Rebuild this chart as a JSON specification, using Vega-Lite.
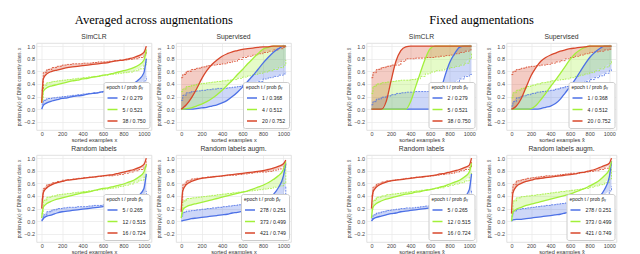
{
"$schema":"https://vega.github.io/schema/vega-lite/v6.json",
"padding":{"left":15.5,"top":14,"right":2,"bottom":0},
"data":{"values":[
{"p":"A","k":0,"x":0,"y":0,"s":0.08},{"p":"A","k":0,"x":15,"y":0.06,"s":0.14},{"p":"A","k":0,"x":50,"y":0.1,"s":0.17},{"p":"A","k":0,"x":100,"y":0.13,"s":0.18},{"p":"A","k":0,"x":150,"y":0.15,"s":0.19},{"p":"A","k":0,"x":200,"y":0.17,"s":0.2},{"p":"A","k":0,"x":250,"y":0.18,"s":0.21},{"p":"A","k":0,"x":300,"y":0.2,"s":0.22},{"p":"A","k":0,"x":350,"y":0.21,"s":0.23},{"p":"A","k":0,"x":400,"y":0.22,"s":0.24},{"p":"A","k":0,"x":450,"y":0.24,"s":0.25},{"p":"A","k":0,"x":500,"y":0.25,"s":0.26},{"p":"A","k":0,"x":550,"y":0.26,"s":0.27},{"p":"A","k":0,"x":600,"y":0.28,"s":0.28},{"p":"A","k":0,"x":650,"y":0.29,"s":0.29},{"p":"A","k":0,"x":700,"y":0.31,"s":0.3},{"p":"A","k":0,"x":750,"y":0.33,"s":0.31},{"p":"A","k":0,"x":800,"y":0.35,"s":0.33},{"p":"A","k":0,"x":850,"y":0.38,"s":0.35},{"p":"A","k":0,"x":900,"y":0.41,"s":0.37},{"p":"A","k":0,"x":950,"y":0.47,"s":0.4},{"p":"A","k":0,"x":1000,"y":0.58,"s":0.45},{"p":"A","k":0,"x":1023,"y":0.8,"s":0.52},
{"p":"A","k":1,"x":0,"y":0.1,"s":0.15},{"p":"A","k":1,"x":15,"y":0.28,"s":0.38},{"p":"A","k":1,"x":50,"y":0.34,"s":0.42},{"p":"A","k":1,"x":100,"y":0.37,"s":0.44},{"p":"A","k":1,"x":150,"y":0.39,"s":0.45},{"p":"A","k":1,"x":200,"y":0.41,"s":0.46},{"p":"A","k":1,"x":250,"y":0.43,"s":0.47},{"p":"A","k":1,"x":300,"y":0.45,"s":0.48},{"p":"A","k":1,"x":350,"y":0.46,"s":0.49},{"p":"A","k":1,"x":400,"y":0.48,"s":0.5},{"p":"A","k":1,"x":450,"y":0.49,"s":0.51},{"p":"A","k":1,"x":500,"y":0.51,"s":0.52},{"p":"A","k":1,"x":550,"y":0.52,"s":0.53},{"p":"A","k":1,"x":600,"y":0.54,"s":0.54},{"p":"A","k":1,"x":650,"y":0.55,"s":0.55},{"p":"A","k":1,"x":700,"y":0.57,"s":0.56},{"p":"A","k":1,"x":750,"y":0.59,"s":0.57},{"p":"A","k":1,"x":800,"y":0.61,"s":0.58},{"p":"A","k":1,"x":850,"y":0.63,"s":0.59},{"p":"A","k":1,"x":900,"y":0.66,"s":0.61},{"p":"A","k":1,"x":950,"y":0.7,"s":0.64},{"p":"A","k":1,"x":1000,"y":0.78,"s":0.7},{"p":"A","k":1,"x":1023,"y":0.95,"s":0.8},
{"p":"A","k":2,"x":0,"y":0.1,"s":0.3},{"p":"A","k":2,"x":15,"y":0.48,"s":0.58},{"p":"A","k":2,"x":50,"y":0.56,"s":0.63},{"p":"A","k":2,"x":100,"y":0.6,"s":0.66},{"p":"A","k":2,"x":150,"y":0.62,"s":0.68},{"p":"A","k":2,"x":200,"y":0.64,"s":0.7},{"p":"A","k":2,"x":250,"y":0.66,"s":0.71},{"p":"A","k":2,"x":300,"y":0.67,"s":0.72},{"p":"A","k":2,"x":350,"y":0.68,"s":0.72},{"p":"A","k":2,"x":400,"y":0.69,"s":0.73},{"p":"A","k":2,"x":450,"y":0.7,"s":0.73},{"p":"A","k":2,"x":500,"y":0.71,"s":0.74},{"p":"A","k":2,"x":550,"y":0.72,"s":0.75},{"p":"A","k":2,"x":600,"y":0.73,"s":0.75},{"p":"A","k":2,"x":650,"y":0.74,"s":0.76},{"p":"A","k":2,"x":700,"y":0.76,"s":0.77},{"p":"A","k":2,"x":750,"y":0.77,"s":0.78},{"p":"A","k":2,"x":800,"y":0.78,"s":0.78},{"p":"A","k":2,"x":850,"y":0.8,"s":0.79},{"p":"A","k":2,"x":900,"y":0.82,"s":0.8},{"p":"A","k":2,"x":950,"y":0.85,"s":0.82},{"p":"A","k":2,"x":1000,"y":0.9,"s":0.86},{"p":"A","k":2,"x":1023,"y":1.0,"s":0.92},
{"p":"B","k":0,"x":0,"y":0,"s":0.14},{"p":"B","k":0,"x":15,"y":0,"s":0.22},{"p":"B","k":0,"x":50,"y":0,"s":0.26},{"p":"B","k":0,"x":100,"y":0,"s":0.28},{"p":"B","k":0,"x":150,"y":0.01,"s":0.29},{"p":"B","k":0,"x":200,"y":0.02,"s":0.3},{"p":"B","k":0,"x":250,"y":0.03,"s":0.31},{"p":"B","k":0,"x":300,"y":0.05,"s":0.32},{"p":"B","k":0,"x":350,"y":0.07,"s":0.33},{"p":"B","k":0,"x":400,"y":0.1,"s":0.33},{"p":"B","k":0,"x":450,"y":0.14,"s":0.34},{"p":"B","k":0,"x":500,"y":0.2,"s":0.35},{"p":"B","k":0,"x":550,"y":0.27,"s":0.36},{"p":"B","k":0,"x":600,"y":0.35,"s":0.38},{"p":"B","k":0,"x":650,"y":0.44,"s":0.4},{"p":"B","k":0,"x":700,"y":0.53,"s":0.42},{"p":"B","k":0,"x":750,"y":0.63,"s":0.44},{"p":"B","k":0,"x":800,"y":0.73,"s":0.48},{"p":"B","k":0,"x":850,"y":0.82,"s":0.5},{"p":"B","k":0,"x":900,"y":0.9,"s":0.52},{"p":"B","k":0,"x":950,"y":0.96,"s":0.54},{"p":"B","k":0,"x":1000,"y":1.0,"s":0.56},{"p":"B","k":0,"x":1023,"y":1.0,"s":0.58},
{"p":"B","k":1,"x":0,"y":0,"s":0.28},{"p":"B","k":1,"x":15,"y":0,"s":0.32},{"p":"B","k":1,"x":50,"y":0.01,"s":0.36},{"p":"B","k":1,"x":100,"y":0.02,"s":0.38},{"p":"B","k":1,"x":150,"y":0.05,"s":0.4},{"p":"B","k":1,"x":200,"y":0.08,"s":0.41},{"p":"B","k":1,"x":250,"y":0.12,"s":0.42},{"p":"B","k":1,"x":300,"y":0.17,"s":0.43},{"p":"B","k":1,"x":350,"y":0.23,"s":0.44},{"p":"B","k":1,"x":400,"y":0.3,"s":0.45},{"p":"B","k":1,"x":450,"y":0.38,"s":0.46},{"p":"B","k":1,"x":500,"y":0.46,"s":0.47},{"p":"B","k":1,"x":550,"y":0.55,"s":0.49},{"p":"B","k":1,"x":600,"y":0.63,"s":0.51},{"p":"B","k":1,"x":650,"y":0.72,"s":0.53},{"p":"B","k":1,"x":700,"y":0.8,"s":0.55},{"p":"B","k":1,"x":750,"y":0.88,"s":0.57},{"p":"B","k":1,"x":800,"y":0.95,"s":0.59},{"p":"B","k":1,"x":850,"y":0.98,"s":0.61},{"p":"B","k":1,"x":900,"y":1.0,"s":0.63},{"p":"B","k":1,"x":950,"y":1.0,"s":0.66},{"p":"B","k":1,"x":1000,"y":1.0,"s":0.7},{"p":"B","k":1,"x":1023,"y":1.0,"s":0.78},
{"p":"B","k":2,"x":0,"y":0,"s":0.5},{"p":"B","k":2,"x":15,"y":0.02,"s":0.55},{"p":"B","k":2,"x":50,"y":0.07,"s":0.6},{"p":"B","k":2,"x":100,"y":0.18,"s":0.63},{"p":"B","k":2,"x":150,"y":0.32,"s":0.65},{"p":"B","k":2,"x":200,"y":0.48,"s":0.67},{"p":"B","k":2,"x":250,"y":0.61,"s":0.69},{"p":"B","k":2,"x":300,"y":0.71,"s":0.7},{"p":"B","k":2,"x":350,"y":0.78,"s":0.71},{"p":"B","k":2,"x":400,"y":0.84,"s":0.72},{"p":"B","k":2,"x":450,"y":0.88,"s":0.74},{"p":"B","k":2,"x":500,"y":0.91,"s":0.76},{"p":"B","k":2,"x":550,"y":0.93,"s":0.79},{"p":"B","k":2,"x":600,"y":0.95,"s":0.82},{"p":"B","k":2,"x":650,"y":0.96,"s":0.84},{"p":"B","k":2,"x":700,"y":0.97,"s":0.86},{"p":"B","k":2,"x":750,"y":0.98,"s":0.88},{"p":"B","k":2,"x":800,"y":0.99,"s":0.9},{"p":"B","k":2,"x":850,"y":0.99,"s":0.92},{"p":"B","k":2,"x":900,"y":1.0,"s":0.94},{"p":"B","k":2,"x":950,"y":1.0,"s":0.96},{"p":"B","k":2,"x":1000,"y":1.0,"s":0.98},{"p":"B","k":2,"x":1023,"y":1.0,"s":1.0},
{"p":"C","k":0,"x":0,"y":0,"s":0.07},{"p":"C","k":0,"x":15,"y":0,"s":0.12},{"p":"C","k":0,"x":50,"y":0,"s":0.16},{"p":"C","k":0,"x":100,"y":0,"s":0.19},{"p":"C","k":0,"x":150,"y":0,"s":0.21},{"p":"C","k":0,"x":200,"y":0,"s":0.23},{"p":"C","k":0,"x":250,"y":0,"s":0.25},{"p":"C","k":0,"x":300,"y":0,"s":0.26},{"p":"C","k":0,"x":350,"y":0,"s":0.27},{"p":"C","k":0,"x":400,"y":0,"s":0.27},{"p":"C","k":0,"x":450,"y":0,"s":0.28},{"p":"C","k":0,"x":500,"y":0,"s":0.28},{"p":"C","k":0,"x":550,"y":0,"s":0.28},{"p":"C","k":0,"x":600,"y":0,"s":0.29},{"p":"C","k":0,"x":650,"y":0.04,"s":0.3},{"p":"C","k":0,"x":700,"y":0.25,"s":0.32},{"p":"C","k":0,"x":750,"y":0.52,"s":0.35},{"p":"C","k":0,"x":800,"y":0.74,"s":0.39},{"p":"C","k":0,"x":850,"y":0.88,"s":0.43},{"p":"C","k":0,"x":900,"y":0.98,"s":0.48},{"p":"C","k":0,"x":950,"y":1.0,"s":0.52},{"p":"C","k":0,"x":1000,"y":1.0,"s":0.55},{"p":"C","k":0,"x":1023,"y":1.0,"s":0.57},
{"p":"C","k":1,"x":0,"y":0,"s":0.25},{"p":"C","k":1,"x":15,"y":0,"s":0.36},{"p":"C","k":1,"x":50,"y":0,"s":0.4},{"p":"C","k":1,"x":100,"y":0,"s":0.42},{"p":"C","k":1,"x":150,"y":0,"s":0.43},{"p":"C","k":1,"x":200,"y":0,"s":0.44},{"p":"C","k":1,"x":250,"y":0,"s":0.45},{"p":"C","k":1,"x":300,"y":0,"s":0.46},{"p":"C","k":1,"x":350,"y":0,"s":0.46},{"p":"C","k":1,"x":400,"y":0.12,"s":0.47},{"p":"C","k":1,"x":450,"y":0.35,"s":0.48},{"p":"C","k":1,"x":500,"y":0.58,"s":0.52},{"p":"C","k":1,"x":550,"y":0.8,"s":0.56},{"p":"C","k":1,"x":600,"y":0.96,"s":0.59},{"p":"C","k":1,"x":650,"y":1.0,"s":0.61},{"p":"C","k":1,"x":700,"y":1.0,"s":0.62},{"p":"C","k":1,"x":750,"y":1.0,"s":0.64},{"p":"C","k":1,"x":800,"y":1.0,"s":0.66},{"p":"C","k":1,"x":850,"y":1.0,"s":0.68},{"p":"C","k":1,"x":900,"y":1.0,"s":0.7},{"p":"C","k":1,"x":950,"y":1.0,"s":0.73},{"p":"C","k":1,"x":1000,"y":1.0,"s":0.8},{"p":"C","k":1,"x":1023,"y":1.0,"s":0.88},
{"p":"C","k":2,"x":0,"y":0,"s":0.5},{"p":"C","k":2,"x":15,"y":0,"s":0.58},{"p":"C","k":2,"x":50,"y":0,"s":0.63},{"p":"C","k":2,"x":100,"y":0,"s":0.66},{"p":"C","k":2,"x":150,"y":0.12,"s":0.68},{"p":"C","k":2,"x":200,"y":0.45,"s":0.7},{"p":"C","k":2,"x":250,"y":0.76,"s":0.7},{"p":"C","k":2,"x":300,"y":0.93,"s":0.76},{"p":"C","k":2,"x":350,"y":0.99,"s":0.8},{"p":"C","k":2,"x":400,"y":1.0,"s":0.8},{"p":"C","k":2,"x":450,"y":1.0,"s":0.81},{"p":"C","k":2,"x":500,"y":1.0,"s":0.81},{"p":"C","k":2,"x":550,"y":1.0,"s":0.82},{"p":"C","k":2,"x":600,"y":1.0,"s":0.82},{"p":"C","k":2,"x":650,"y":1.0,"s":0.83},{"p":"C","k":2,"x":700,"y":1.0,"s":0.84},{"p":"C","k":2,"x":750,"y":1.0,"s":0.85},{"p":"C","k":2,"x":800,"y":1.0,"s":0.86},{"p":"C","k":2,"x":850,"y":1.0,"s":0.88},{"p":"C","k":2,"x":900,"y":1.0,"s":0.9},{"p":"C","k":2,"x":950,"y":1.0,"s":0.92},{"p":"C","k":2,"x":1000,"y":1.0,"s":0.94},{"p":"C","k":2,"x":1023,"y":1.0,"s":0.95},
{"p":"D","k":0,"x":0,"y":0,"s":0.05},{"p":"D","k":0,"x":15,"y":0,"s":0.12},{"p":"D","k":0,"x":50,"y":0,"s":0.18},{"p":"D","k":0,"x":100,"y":0,"s":0.21},{"p":"D","k":0,"x":150,"y":0,"s":0.23},{"p":"D","k":0,"x":200,"y":0,"s":0.25},{"p":"D","k":0,"x":250,"y":0,"s":0.27},{"p":"D","k":0,"x":300,"y":0.01,"s":0.28},{"p":"D","k":0,"x":350,"y":0.03,"s":0.29},{"p":"D","k":0,"x":400,"y":0.05,"s":0.3},{"p":"D","k":0,"x":450,"y":0.09,"s":0.32},{"p":"D","k":0,"x":500,"y":0.16,"s":0.34},{"p":"D","k":0,"x":550,"y":0.26,"s":0.36},{"p":"D","k":0,"x":600,"y":0.36,"s":0.38},{"p":"D","k":0,"x":650,"y":0.47,"s":0.4},{"p":"D","k":0,"x":700,"y":0.59,"s":0.42},{"p":"D","k":0,"x":750,"y":0.71,"s":0.44},{"p":"D","k":0,"x":800,"y":0.82,"s":0.47},{"p":"D","k":0,"x":850,"y":0.9,"s":0.5},{"p":"D","k":0,"x":900,"y":0.96,"s":0.53},{"p":"D","k":0,"x":950,"y":1.0,"s":0.57},{"p":"D","k":0,"x":1000,"y":1.0,"s":0.61},{"p":"D","k":0,"x":1023,"y":1.0,"s":0.63},
{"p":"D","k":1,"x":0,"y":0,"s":0.18},{"p":"D","k":1,"x":15,"y":0,"s":0.26},{"p":"D","k":1,"x":50,"y":0,"s":0.3},{"p":"D","k":1,"x":100,"y":0,"s":0.33},{"p":"D","k":1,"x":150,"y":0,"s":0.36},{"p":"D","k":1,"x":200,"y":0.01,"s":0.38},{"p":"D","k":1,"x":250,"y":0.06,"s":0.4},{"p":"D","k":1,"x":300,"y":0.15,"s":0.42},{"p":"D","k":1,"x":350,"y":0.25,"s":0.43},{"p":"D","k":1,"x":400,"y":0.36,"s":0.45},{"p":"D","k":1,"x":450,"y":0.46,"s":0.46},{"p":"D","k":1,"x":500,"y":0.57,"s":0.47},{"p":"D","k":1,"x":550,"y":0.68,"s":0.48},{"p":"D","k":1,"x":600,"y":0.79,"s":0.5},{"p":"D","k":1,"x":650,"y":0.88,"s":0.52},{"p":"D","k":1,"x":700,"y":0.94,"s":0.54},{"p":"D","k":1,"x":750,"y":0.98,"s":0.56},{"p":"D","k":1,"x":800,"y":1.0,"s":0.58},{"p":"D","k":1,"x":850,"y":1.0,"s":0.61},{"p":"D","k":1,"x":900,"y":1.0,"s":0.64},{"p":"D","k":1,"x":950,"y":1.0,"s":0.67},{"p":"D","k":1,"x":1000,"y":1.0,"s":0.72},{"p":"D","k":1,"x":1023,"y":1.0,"s":0.76},
{"p":"D","k":2,"x":0,"y":0,"s":0.55},{"p":"D","k":2,"x":15,"y":0.01,"s":0.6},{"p":"D","k":2,"x":50,"y":0.05,"s":0.63},{"p":"D","k":2,"x":100,"y":0.17,"s":0.65},{"p":"D","k":2,"x":150,"y":0.35,"s":0.67},{"p":"D","k":2,"x":200,"y":0.53,"s":0.68},{"p":"D","k":2,"x":250,"y":0.66,"s":0.69},{"p":"D","k":2,"x":300,"y":0.76,"s":0.7},{"p":"D","k":2,"x":350,"y":0.82,"s":0.71},{"p":"D","k":2,"x":400,"y":0.86,"s":0.73},{"p":"D","k":2,"x":450,"y":0.89,"s":0.75},{"p":"D","k":2,"x":500,"y":0.92,"s":0.77},{"p":"D","k":2,"x":550,"y":0.94,"s":0.8},{"p":"D","k":2,"x":600,"y":0.96,"s":0.82},{"p":"D","k":2,"x":650,"y":0.97,"s":0.84},{"p":"D","k":2,"x":700,"y":0.98,"s":0.86},{"p":"D","k":2,"x":750,"y":0.99,"s":0.88},{"p":"D","k":2,"x":800,"y":1.0,"s":0.9},{"p":"D","k":2,"x":850,"y":1.0,"s":0.91},{"p":"D","k":2,"x":900,"y":1.0,"s":0.92},{"p":"D","k":2,"x":950,"y":1.0,"s":0.94},{"p":"D","k":2,"x":1000,"y":1.0,"s":0.95},{"p":"D","k":2,"x":1023,"y":1.0,"s":0.96},
{"p":"E","k":0,"x":0,"y":0,"s":0.03},{"p":"E","k":0,"x":15,"y":0.04,"s":0.1},{"p":"E","k":0,"x":50,"y":0.08,"s":0.15},{"p":"E","k":0,"x":100,"y":0.1,"s":0.18},{"p":"E","k":0,"x":150,"y":0.13,"s":0.2},{"p":"E","k":0,"x":200,"y":0.15,"s":0.21},{"p":"E","k":0,"x":250,"y":0.16,"s":0.22},{"p":"E","k":0,"x":300,"y":0.17,"s":0.22},{"p":"E","k":0,"x":350,"y":0.18,"s":0.23},{"p":"E","k":0,"x":400,"y":0.19,"s":0.23},{"p":"E","k":0,"x":450,"y":0.2,"s":0.24},{"p":"E","k":0,"x":500,"y":0.21,"s":0.25},{"p":"E","k":0,"x":550,"y":0.22,"s":0.25},{"p":"E","k":0,"x":600,"y":0.23,"s":0.26},{"p":"E","k":0,"x":650,"y":0.25,"s":0.27},{"p":"E","k":0,"x":700,"y":0.27,"s":0.28},{"p":"E","k":0,"x":750,"y":0.29,"s":0.29},{"p":"E","k":0,"x":800,"y":0.31,"s":0.3},{"p":"E","k":0,"x":850,"y":0.33,"s":0.31},{"p":"E","k":0,"x":900,"y":0.36,"s":0.33},{"p":"E","k":0,"x":950,"y":0.41,"s":0.36},{"p":"E","k":0,"x":1000,"y":0.52,"s":0.42},{"p":"E","k":0,"x":1023,"y":0.75,"s":0.48},
{"p":"E","k":1,"x":0,"y":0.05,"s":0.12},{"p":"E","k":1,"x":15,"y":0.22,"s":0.33},{"p":"E","k":1,"x":50,"y":0.28,"s":0.38},{"p":"E","k":1,"x":100,"y":0.32,"s":0.4},{"p":"E","k":1,"x":150,"y":0.35,"s":0.42},{"p":"E","k":1,"x":200,"y":0.37,"s":0.43},{"p":"E","k":1,"x":250,"y":0.39,"s":0.44},{"p":"E","k":1,"x":300,"y":0.41,"s":0.45},{"p":"E","k":1,"x":350,"y":0.43,"s":0.46},{"p":"E","k":1,"x":400,"y":0.45,"s":0.47},{"p":"E","k":1,"x":450,"y":0.46,"s":0.48},{"p":"E","k":1,"x":500,"y":0.48,"s":0.49},{"p":"E","k":1,"x":550,"y":0.5,"s":0.5},{"p":"E","k":1,"x":600,"y":0.52,"s":0.51},{"p":"E","k":1,"x":650,"y":0.53,"s":0.52},{"p":"E","k":1,"x":700,"y":0.55,"s":0.53},{"p":"E","k":1,"x":750,"y":0.57,"s":0.55},{"p":"E","k":1,"x":800,"y":0.59,"s":0.57},{"p":"E","k":1,"x":850,"y":0.62,"s":0.59},{"p":"E","k":1,"x":900,"y":0.65,"s":0.62},{"p":"E","k":1,"x":950,"y":0.7,"s":0.65},{"p":"E","k":1,"x":1000,"y":0.78,"s":0.7},{"p":"E","k":1,"x":1023,"y":0.9,"s":0.75},
{"p":"E","k":2,"x":0,"y":0.2,"s":0.35},{"p":"E","k":2,"x":15,"y":0.45,"s":0.52},{"p":"E","k":2,"x":50,"y":0.53,"s":0.58},{"p":"E","k":2,"x":100,"y":0.58,"s":0.61},{"p":"E","k":2,"x":150,"y":0.61,"s":0.63},{"p":"E","k":2,"x":200,"y":0.63,"s":0.65},{"p":"E","k":2,"x":250,"y":0.65,"s":0.66},{"p":"E","k":2,"x":300,"y":0.66,"s":0.67},{"p":"E","k":2,"x":350,"y":0.67,"s":0.68},{"p":"E","k":2,"x":400,"y":0.68,"s":0.69},{"p":"E","k":2,"x":450,"y":0.69,"s":0.7},{"p":"E","k":2,"x":500,"y":0.7,"s":0.7},{"p":"E","k":2,"x":550,"y":0.71,"s":0.71},{"p":"E","k":2,"x":600,"y":0.72,"s":0.72},{"p":"E","k":2,"x":650,"y":0.73,"s":0.72},{"p":"E","k":2,"x":700,"y":0.74,"s":0.73},{"p":"E","k":2,"x":750,"y":0.76,"s":0.74},{"p":"E","k":2,"x":800,"y":0.78,"s":0.76},{"p":"E","k":2,"x":850,"y":0.8,"s":0.78},{"p":"E","k":2,"x":900,"y":0.82,"s":0.8},{"p":"E","k":2,"x":950,"y":0.85,"s":0.82},{"p":"E","k":2,"x":1000,"y":0.9,"s":0.86},{"p":"E","k":2,"x":1023,"y":1.0,"s":0.95},
{"p":"F","k":0,"x":0,"y":0,"s":0.08},{"p":"F","k":0,"x":15,"y":0.01,"s":0.14},{"p":"F","k":0,"x":50,"y":0.02,"s":0.16},{"p":"F","k":0,"x":100,"y":0.04,"s":0.17},{"p":"F","k":0,"x":150,"y":0.05,"s":0.18},{"p":"F","k":0,"x":200,"y":0.06,"s":0.19},{"p":"F","k":0,"x":250,"y":0.07,"s":0.2},{"p":"F","k":0,"x":300,"y":0.08,"s":0.21},{"p":"F","k":0,"x":350,"y":0.09,"s":0.22},{"p":"F","k":0,"x":400,"y":0.1,"s":0.23},{"p":"F","k":0,"x":450,"y":0.11,"s":0.24},{"p":"F","k":0,"x":500,"y":0.13,"s":0.25},{"p":"F","k":0,"x":550,"y":0.14,"s":0.26},{"p":"F","k":0,"x":600,"y":0.16,"s":0.27},{"p":"F","k":0,"x":650,"y":0.18,"s":0.28},{"p":"F","k":0,"x":700,"y":0.21,"s":0.29},{"p":"F","k":0,"x":750,"y":0.24,"s":0.3},{"p":"F","k":0,"x":800,"y":0.28,"s":0.31},{"p":"F","k":0,"x":850,"y":0.34,"s":0.32},{"p":"F","k":0,"x":900,"y":0.42,"s":0.34},{"p":"F","k":0,"x":950,"y":0.53,"s":0.37},{"p":"F","k":0,"x":1000,"y":0.72,"s":0.43},{"p":"F","k":0,"x":1023,"y":0.92,"s":0.55},
{"p":"F","k":1,"x":0,"y":0.05,"s":0.12},{"p":"F","k":1,"x":15,"y":0.18,"s":0.32},{"p":"F","k":1,"x":50,"y":0.23,"s":0.36},{"p":"F","k":1,"x":100,"y":0.26,"s":0.37},{"p":"F","k":1,"x":150,"y":0.28,"s":0.38},{"p":"F","k":1,"x":200,"y":0.3,"s":0.39},{"p":"F","k":1,"x":250,"y":0.32,"s":0.4},{"p":"F","k":1,"x":300,"y":0.34,"s":0.41},{"p":"F","k":1,"x":350,"y":0.36,"s":0.42},{"p":"F","k":1,"x":400,"y":0.38,"s":0.43},{"p":"F","k":1,"x":450,"y":0.4,"s":0.44},{"p":"F","k":1,"x":500,"y":0.42,"s":0.45},{"p":"F","k":1,"x":550,"y":0.44,"s":0.46},{"p":"F","k":1,"x":600,"y":0.46,"s":0.47},{"p":"F","k":1,"x":650,"y":0.48,"s":0.48},{"p":"F","k":1,"x":700,"y":0.51,"s":0.49},{"p":"F","k":1,"x":750,"y":0.54,"s":0.5},{"p":"F","k":1,"x":800,"y":0.57,"s":0.51},{"p":"F","k":1,"x":850,"y":0.61,"s":0.52},{"p":"F","k":1,"x":900,"y":0.66,"s":0.54},{"p":"F","k":1,"x":950,"y":0.72,"s":0.56},{"p":"F","k":1,"x":1000,"y":0.82,"s":0.6},{"p":"F","k":1,"x":1023,"y":0.95,"s":0.88},
{"p":"F","k":2,"x":0,"y":0.15,"s":0.3},{"p":"F","k":2,"x":15,"y":0.48,"s":0.58},{"p":"F","k":2,"x":50,"y":0.58,"s":0.64},{"p":"F","k":2,"x":100,"y":0.63,"s":0.67},{"p":"F","k":2,"x":150,"y":0.66,"s":0.68},{"p":"F","k":2,"x":200,"y":0.68,"s":0.69},{"p":"F","k":2,"x":250,"y":0.69,"s":0.7},{"p":"F","k":2,"x":300,"y":0.7,"s":0.71},{"p":"F","k":2,"x":350,"y":0.71,"s":0.71},{"p":"F","k":2,"x":400,"y":0.72,"s":0.72},{"p":"F","k":2,"x":450,"y":0.73,"s":0.73},{"p":"F","k":2,"x":500,"y":0.74,"s":0.73},{"p":"F","k":2,"x":550,"y":0.75,"s":0.74},{"p":"F","k":2,"x":600,"y":0.76,"s":0.75},{"p":"F","k":2,"x":650,"y":0.77,"s":0.76},{"p":"F","k":2,"x":700,"y":0.78,"s":0.77},{"p":"F","k":2,"x":750,"y":0.79,"s":0.78},{"p":"F","k":2,"x":800,"y":0.8,"s":0.78},{"p":"F","k":2,"x":850,"y":0.82,"s":0.79},{"p":"F","k":2,"x":900,"y":0.84,"s":0.81},{"p":"F","k":2,"x":950,"y":0.87,"s":0.83},{"p":"F","k":2,"x":1000,"y":0.91,"s":0.87},{"p":"F","k":2,"x":1023,"y":0.97,"s":0.93},
{"p":"G","k":0,"x":0,"y":0,"s":0.04},{"p":"G","k":0,"x":15,"y":0.03,"s":0.1},{"p":"G","k":0,"x":50,"y":0.06,"s":0.13},{"p":"G","k":0,"x":100,"y":0.08,"s":0.15},{"p":"G","k":0,"x":150,"y":0.1,"s":0.17},{"p":"G","k":0,"x":200,"y":0.12,"s":0.18},{"p":"G","k":0,"x":250,"y":0.13,"s":0.19},{"p":"G","k":0,"x":300,"y":0.15,"s":0.2},{"p":"G","k":0,"x":350,"y":0.16,"s":0.21},{"p":"G","k":0,"x":400,"y":0.17,"s":0.21},{"p":"G","k":0,"x":450,"y":0.18,"s":0.22},{"p":"G","k":0,"x":500,"y":0.19,"s":0.23},{"p":"G","k":0,"x":550,"y":0.2,"s":0.24},{"p":"G","k":0,"x":600,"y":0.21,"s":0.25},{"p":"G","k":0,"x":650,"y":0.22,"s":0.26},{"p":"G","k":0,"x":700,"y":0.24,"s":0.27},{"p":"G","k":0,"x":750,"y":0.25,"s":0.28},{"p":"G","k":0,"x":800,"y":0.27,"s":0.29},{"p":"G","k":0,"x":850,"y":0.29,"s":0.31},{"p":"G","k":0,"x":900,"y":0.32,"s":0.33},{"p":"G","k":0,"x":950,"y":0.38,"s":0.36},{"p":"G","k":0,"x":1000,"y":0.5,"s":0.42},{"p":"G","k":0,"x":1023,"y":0.75,"s":0.5},
{"p":"G","k":1,"x":0,"y":0.05,"s":0.18},{"p":"G","k":1,"x":15,"y":0.22,"s":0.33},{"p":"G","k":1,"x":50,"y":0.28,"s":0.38},{"p":"G","k":1,"x":100,"y":0.32,"s":0.4},{"p":"G","k":1,"x":150,"y":0.35,"s":0.42},{"p":"G","k":1,"x":200,"y":0.37,"s":0.43},{"p":"G","k":1,"x":250,"y":0.39,"s":0.44},{"p":"G","k":1,"x":300,"y":0.41,"s":0.45},{"p":"G","k":1,"x":350,"y":0.43,"s":0.46},{"p":"G","k":1,"x":400,"y":0.44,"s":0.47},{"p":"G","k":1,"x":450,"y":0.46,"s":0.48},{"p":"G","k":1,"x":500,"y":0.47,"s":0.49},{"p":"G","k":1,"x":550,"y":0.49,"s":0.5},{"p":"G","k":1,"x":600,"y":0.5,"s":0.51},{"p":"G","k":1,"x":650,"y":0.52,"s":0.52},{"p":"G","k":1,"x":700,"y":0.54,"s":0.53},{"p":"G","k":1,"x":750,"y":0.56,"s":0.55},{"p":"G","k":1,"x":800,"y":0.59,"s":0.57},{"p":"G","k":1,"x":850,"y":0.62,"s":0.59},{"p":"G","k":1,"x":900,"y":0.65,"s":0.61},{"p":"G","k":1,"x":950,"y":0.7,"s":0.64},{"p":"G","k":1,"x":1000,"y":0.78,"s":0.7},{"p":"G","k":1,"x":1023,"y":0.92,"s":0.78},
{"p":"G","k":2,"x":0,"y":0.2,"s":0.4},{"p":"G","k":2,"x":15,"y":0.46,"s":0.54},{"p":"G","k":2,"x":50,"y":0.54,"s":0.59},{"p":"G","k":2,"x":100,"y":0.59,"s":0.62},{"p":"G","k":2,"x":150,"y":0.62,"s":0.64},{"p":"G","k":2,"x":200,"y":0.64,"s":0.65},{"p":"G","k":2,"x":250,"y":0.65,"s":0.66},{"p":"G","k":2,"x":300,"y":0.66,"s":0.67},{"p":"G","k":2,"x":350,"y":0.67,"s":0.68},{"p":"G","k":2,"x":400,"y":0.68,"s":0.69},{"p":"G","k":2,"x":450,"y":0.69,"s":0.7},{"p":"G","k":2,"x":500,"y":0.7,"s":0.7},{"p":"G","k":2,"x":550,"y":0.71,"s":0.71},{"p":"G","k":2,"x":600,"y":0.72,"s":0.72},{"p":"G","k":2,"x":650,"y":0.73,"s":0.73},{"p":"G","k":2,"x":700,"y":0.75,"s":0.74},{"p":"G","k":2,"x":750,"y":0.76,"s":0.75},{"p":"G","k":2,"x":800,"y":0.78,"s":0.76},{"p":"G","k":2,"x":850,"y":0.8,"s":0.78},{"p":"G","k":2,"x":900,"y":0.82,"s":0.8},{"p":"G","k":2,"x":950,"y":0.85,"s":0.82},{"p":"G","k":2,"x":1000,"y":0.89,"s":0.85},{"p":"G","k":2,"x":1023,"y":1.0,"s":0.95},
{"p":"H","k":0,"x":0,"y":0,"s":0.08},{"p":"H","k":0,"x":15,"y":0.02,"s":0.16},{"p":"H","k":0,"x":50,"y":0.03,"s":0.19},{"p":"H","k":0,"x":100,"y":0.03,"s":0.2},{"p":"H","k":0,"x":150,"y":0.04,"s":0.21},{"p":"H","k":0,"x":200,"y":0.05,"s":0.22},{"p":"H","k":0,"x":250,"y":0.06,"s":0.23},{"p":"H","k":0,"x":300,"y":0.07,"s":0.24},{"p":"H","k":0,"x":350,"y":0.08,"s":0.25},{"p":"H","k":0,"x":400,"y":0.09,"s":0.26},{"p":"H","k":0,"x":450,"y":0.1,"s":0.27},{"p":"H","k":0,"x":500,"y":0.11,"s":0.28},{"p":"H","k":0,"x":550,"y":0.13,"s":0.29},{"p":"H","k":0,"x":600,"y":0.15,"s":0.3},{"p":"H","k":0,"x":650,"y":0.17,"s":0.31},{"p":"H","k":0,"x":700,"y":0.2,"s":0.32},{"p":"H","k":0,"x":750,"y":0.23,"s":0.33},{"p":"H","k":0,"x":800,"y":0.27,"s":0.35},{"p":"H","k":0,"x":850,"y":0.32,"s":0.37},{"p":"H","k":0,"x":900,"y":0.39,"s":0.39},{"p":"H","k":0,"x":950,"y":0.5,"s":0.42},{"p":"H","k":0,"x":1000,"y":0.7,"s":0.48},{"p":"H","k":0,"x":1023,"y":0.95,"s":0.55},
{"p":"H","k":1,"x":0,"y":0,"s":0.15},{"p":"H","k":1,"x":15,"y":0.14,"s":0.32},{"p":"H","k":1,"x":50,"y":0.19,"s":0.37},{"p":"H","k":1,"x":100,"y":0.22,"s":0.39},{"p":"H","k":1,"x":150,"y":0.25,"s":0.4},{"p":"H","k":1,"x":200,"y":0.27,"s":0.41},{"p":"H","k":1,"x":250,"y":0.29,"s":0.42},{"p":"H","k":1,"x":300,"y":0.31,"s":0.43},{"p":"H","k":1,"x":350,"y":0.33,"s":0.44},{"p":"H","k":1,"x":400,"y":0.35,"s":0.45},{"p":"H","k":1,"x":450,"y":0.37,"s":0.46},{"p":"H","k":1,"x":500,"y":0.39,"s":0.47},{"p":"H","k":1,"x":550,"y":0.41,"s":0.48},{"p":"H","k":1,"x":600,"y":0.43,"s":0.49},{"p":"H","k":1,"x":650,"y":0.46,"s":0.5},{"p":"H","k":1,"x":700,"y":0.49,"s":0.51},{"p":"H","k":1,"x":750,"y":0.52,"s":0.52},{"p":"H","k":1,"x":800,"y":0.56,"s":0.54},{"p":"H","k":1,"x":850,"y":0.6,"s":0.56},{"p":"H","k":1,"x":900,"y":0.65,"s":0.58},{"p":"H","k":1,"x":950,"y":0.72,"s":0.61},{"p":"H","k":1,"x":1000,"y":0.82,"s":0.67},{"p":"H","k":1,"x":1023,"y":0.95,"s":0.85},
{"p":"H","k":2,"x":0,"y":0.12,"s":0.45},{"p":"H","k":2,"x":15,"y":0.45,"s":0.58},{"p":"H","k":2,"x":50,"y":0.55,"s":0.64},{"p":"H","k":2,"x":100,"y":0.6,"s":0.66},{"p":"H","k":2,"x":150,"y":0.63,"s":0.68},{"p":"H","k":2,"x":200,"y":0.65,"s":0.69},{"p":"H","k":2,"x":250,"y":0.67,"s":0.7},{"p":"H","k":2,"x":300,"y":0.68,"s":0.71},{"p":"H","k":2,"x":350,"y":0.69,"s":0.72},{"p":"H","k":2,"x":400,"y":0.7,"s":0.72},{"p":"H","k":2,"x":450,"y":0.71,"s":0.73},{"p":"H","k":2,"x":500,"y":0.72,"s":0.74},{"p":"H","k":2,"x":550,"y":0.73,"s":0.75},{"p":"H","k":2,"x":600,"y":0.74,"s":0.76},{"p":"H","k":2,"x":650,"y":0.75,"s":0.76},{"p":"H","k":2,"x":700,"y":0.77,"s":0.77},{"p":"H","k":2,"x":750,"y":0.78,"s":0.78},{"p":"H","k":2,"x":800,"y":0.8,"s":0.79},{"p":"H","k":2,"x":850,"y":0.82,"s":0.8},{"p":"H","k":2,"x":900,"y":0.85,"s":0.82},{"p":"H","k":2,"x":950,"y":0.88,"s":0.84},{"p":"H","k":2,"x":1000,"y":0.92,"s":0.89},{"p":"H","k":2,"x":1023,"y":1.0,"s":0.95}
]},
"config":{
"font":"Liberation Sans",
"view":{"stroke":"#d9d9d9","strokeWidth":0.8},
"axis":{"grid":true,"gridColor":"#e8e8e8","gridWidth":0.7,"domain":false,"ticks":false,"labelFontSize":5.5,"labelColor":"#444","labelPadding":2,"titleFontSize":4.6,"titleFontWeight":"normal","titleColor":"#333","titlePadding":2},
"axisX":{"titleFontSize":5.6,"titlePadding":0.5,"labelPadding":1},
"legend":{"orient":"bottom-right","offset":2,"padding":3,"fillColor":"#ffffff","strokeColor":"#cccccc","cornerRadius":2,"titleFontSize":5,"titleFontWeight":"normal","titleColor":"#222","labelFontSize":5.2,"labelColor":"#222","symbolType":"stroke","symbolStrokeWidth":1.5,"symbolSize":100,"symbolDash":[],"symbolOpacity":1,"rowPadding":1.5,"titlePadding":2},
"title":{"fontSize":6.8,"fontWeight":"normal","color":"#333","offset":2}
},
"resolve":{"scale":{"color":"independent"},"legend":{"color":"independent"}},
"spacing":54,
"hconcat":[
{"title":{"text":"Averaged across augmentations","font":"Liberation Serif","fontSize":12.5,"color":"#000","anchor":"middle","offset":7},
 "resolve":{"scale":{"color":"independent"},"legend":{"color":"independent"}},
 "spacing":2,
 "vconcat":[
 {"resolve":{"scale":{"color":"independent"},"legend":{"color":"independent"}},"spacing":2.5,"hconcat":[
  {"width":115,"height":87,"title":"SimCLR","transform":[{"filter":"datum.p=='A'"}],
   "encoding":{"x":{"field":"x","type":"quantitative","scale":{"domain":[-51,1074],"nice":false,"zero":false},"axis":{"format":"d","tickCount":5},"title":"sorted examples x"},
   "color":{"field":"k","type":"nominal","scale":{"domain":[0,1,2],"range":["#4c70e6","#a2f03a","#d8472b"]},"legend":{"title":"epoch t / prob p̂ᵧ","labelExpr":"['2 / 0.279','5 / 0.521','38 / 0.750'][datum.value]"}}},
   "layer":[
    {"mark":{"type":"area","opacity":0.28},"encoding":{"y":{"field":"y","type":"quantitative","stack":null,"scale":{"domain":[-0.33,1.05],"nice":false,"zero":false},"axis":{"tickCount":7,"format":".1f"},"title":"portion pᵧ(x) of DNNs correctly class. x"},"y2":{"field":"s"}}},
    {"mark":{"type":"line","interpolate":"step-after","strokeDash":[2,1],"strokeWidth":0.8},"encoding":{"y":{"field":"s","type":"quantitative","scale":{"domain":[-0.33,1.05],"nice":false,"zero":false},"title":"portion pᵧ(x) of DNNs correctly class. x"}}},
    {"mark":{"type":"line","interpolate":"monotone","strokeWidth":1.3},"encoding":{"y":{"field":"y","type":"quantitative","scale":{"domain":[-0.33,1.05],"nice":false,"zero":false},"title":"portion pᵧ(x) of DNNs correctly class. x"}}}
   ]},
  {"width":115,"height":87,"title":"Supervised","transform":[{"filter":"datum.p=='B'"}],
   "encoding":{"x":{"field":"x","type":"quantitative","scale":{"domain":[-51,1074],"nice":false,"zero":false},"axis":{"format":"d","tickCount":5},"title":"sorted examples x"},
   "color":{"field":"k","type":"nominal","scale":{"domain":[0,1,2],"range":["#4c70e6","#a2f03a","#d8472b"]},"legend":{"title":"epoch t / prob p̂ᵧ","labelExpr":"['1 / 0.368','4 / 0.512','20 / 0.752'][datum.value]"}}},
   "layer":[
    {"mark":{"type":"area","opacity":0.28},"encoding":{"y":{"field":"y","type":"quantitative","stack":null,"scale":{"domain":[-0.33,1.05],"nice":false,"zero":false},"axis":{"tickCount":7,"format":".1f"},"title":"portion pᵧ(x) of DNNs correctly class. x"},"y2":{"field":"s"}}},
    {"mark":{"type":"line","interpolate":"step-after","strokeDash":[2,1],"strokeWidth":0.8},"encoding":{"y":{"field":"s","type":"quantitative","scale":{"domain":[-0.33,1.05],"nice":false,"zero":false},"title":"portion pᵧ(x) of DNNs correctly class. x"}}},
    {"mark":{"type":"line","interpolate":"monotone","strokeWidth":1.3},"encoding":{"y":{"field":"y","type":"quantitative","scale":{"domain":[-0.33,1.05],"nice":false,"zero":false},"title":"portion pᵧ(x) of DNNs correctly class. x"}}}
   ]}
 ]},
 {"resolve":{"scale":{"color":"independent"},"legend":{"color":"independent"}},"spacing":2.5,"hconcat":[
  {"width":115,"height":87,"title":"Random labels","transform":[{"filter":"datum.p=='E'"}],
   "encoding":{"x":{"field":"x","type":"quantitative","scale":{"domain":[-51,1074],"nice":false,"zero":false},"axis":{"format":"d","tickCount":5},"title":"sorted examples x"},
   "color":{"field":"k","type":"nominal","scale":{"domain":[0,1,2],"range":["#4c70e6","#a2f03a","#d8472b"]},"legend":{"title":"epoch t / prob p̂ᵧ","labelExpr":"['5 / 0.265','12 / 0.515','16 / 0.724'][datum.value]"}}},
   "layer":[
    {"mark":{"type":"area","opacity":0.28},"encoding":{"y":{"field":"y","type":"quantitative","stack":null,"scale":{"domain":[-0.33,1.05],"nice":false,"zero":false},"axis":{"tickCount":7,"format":".1f"},"title":"portion pᵧ(x) of DNNs correctly class. x"},"y2":{"field":"s"}}},
    {"mark":{"type":"line","interpolate":"step-after","strokeDash":[2,1],"strokeWidth":0.8},"encoding":{"y":{"field":"s","type":"quantitative","scale":{"domain":[-0.33,1.05],"nice":false,"zero":false},"title":"portion pᵧ(x) of DNNs correctly class. x"}}},
    {"mark":{"type":"line","interpolate":"monotone","strokeWidth":1.3},"encoding":{"y":{"field":"y","type":"quantitative","scale":{"domain":[-0.33,1.05],"nice":false,"zero":false},"title":"portion pᵧ(x) of DNNs correctly class. x"}}}
   ]},
  {"width":115,"height":87,"title":"Random labels augm.","transform":[{"filter":"datum.p=='F'"}],
   "encoding":{"x":{"field":"x","type":"quantitative","scale":{"domain":[-51,1074],"nice":false,"zero":false},"axis":{"format":"d","tickCount":5},"title":"sorted examples x"},
   "color":{"field":"k","type":"nominal","scale":{"domain":[0,1,2],"range":["#4c70e6","#a2f03a","#d8472b"]},"legend":{"title":"epoch t / prob p̂ᵧ","labelExpr":"['278 / 0.251','373 / 0.499','421 / 0.749'][datum.value]"}}},
   "layer":[
    {"mark":{"type":"area","opacity":0.28},"encoding":{"y":{"field":"y","type":"quantitative","stack":null,"scale":{"domain":[-0.33,1.05],"nice":false,"zero":false},"axis":{"tickCount":7,"format":".1f"},"title":"portion pᵧ(x) of DNNs correctly class. x"},"y2":{"field":"s"}}},
    {"mark":{"type":"line","interpolate":"step-after","strokeDash":[2,1],"strokeWidth":0.8},"encoding":{"y":{"field":"s","type":"quantitative","scale":{"domain":[-0.33,1.05],"nice":false,"zero":false},"title":"portion pᵧ(x) of DNNs correctly class. x"}}},
    {"mark":{"type":"line","interpolate":"monotone","strokeWidth":1.3},"encoding":{"y":{"field":"y","type":"quantitative","scale":{"domain":[-0.33,1.05],"nice":false,"zero":false},"title":"portion pᵧ(x) of DNNs correctly class. x"}}}
   ]}
 ]}
 ]},
{"title":{"text":"Fixed augmentations","font":"Liberation Serif","fontSize":12.5,"color":"#000","anchor":"middle","offset":7},
 "resolve":{"scale":{"color":"independent"},"legend":{"color":"independent"}},
 "spacing":2,
 "vconcat":[
 {"resolve":{"scale":{"color":"independent"},"legend":{"color":"independent"}},"spacing":8,"hconcat":[
  {"width":110,"height":87,"title":"SimCLR","transform":[{"filter":"datum.p=='C'"}],
   "encoding":{"x":{"field":"x","type":"quantitative","scale":{"domain":[-51,1074],"nice":false,"zero":false},"axis":{"format":"d","tickCount":5},"title":"sorted examples x̂"},
   "color":{"field":"k","type":"nominal","scale":{"domain":[0,1,2],"range":["#4c70e6","#a2f03a","#d8472b"]},"legend":{"title":"epoch t / prob p̂ᵧ","labelExpr":"['2 / 0.279','5 / 0.521','38 / 0.750'][datum.value]"}}},
   "layer":[
    {"mark":{"type":"area","opacity":0.28},"encoding":{"y":{"field":"y","type":"quantitative","stack":null,"scale":{"domain":[-0.33,1.05],"nice":false,"zero":false},"axis":{"tickCount":7,"format":".1f"},"title":"portion p̂ᵧ(x̂) of DNNs correctly class. x̂"},"y2":{"field":"s"}}},
    {"mark":{"type":"line","interpolate":"step-after","strokeDash":[2,1],"strokeWidth":0.8},"encoding":{"y":{"field":"s","type":"quantitative","scale":{"domain":[-0.33,1.05],"nice":false,"zero":false},"title":"portion p̂ᵧ(x̂) of DNNs correctly class. x̂"}}},
    {"mark":{"type":"line","interpolate":"monotone","strokeWidth":1.3},"encoding":{"y":{"field":"y","type":"quantitative","scale":{"domain":[-0.33,1.05],"nice":false,"zero":false},"title":"portion p̂ᵧ(x̂) of DNNs correctly class. x̂"}}}
   ]},
  {"width":110,"height":87,"title":"Supervised","transform":[{"filter":"datum.p=='D'"}],
   "encoding":{"x":{"field":"x","type":"quantitative","scale":{"domain":[-51,1074],"nice":false,"zero":false},"axis":{"format":"d","tickCount":5},"title":"sorted examples x̂"},
   "color":{"field":"k","type":"nominal","scale":{"domain":[0,1,2],"range":["#4c70e6","#a2f03a","#d8472b"]},"legend":{"title":"epoch t / prob p̂ᵧ","labelExpr":"['1 / 0.368','4 / 0.512','20 / 0.752'][datum.value]"}}},
   "layer":[
    {"mark":{"type":"area","opacity":0.28},"encoding":{"y":{"field":"y","type":"quantitative","stack":null,"scale":{"domain":[-0.33,1.05],"nice":false,"zero":false},"axis":{"tickCount":7,"format":".1f"},"title":"portion p̂ᵧ(x̂) of DNNs correctly class. x̂"},"y2":{"field":"s"}}},
    {"mark":{"type":"line","interpolate":"step-after","strokeDash":[2,1],"strokeWidth":0.8},"encoding":{"y":{"field":"s","type":"quantitative","scale":{"domain":[-0.33,1.05],"nice":false,"zero":false},"title":"portion p̂ᵧ(x̂) of DNNs correctly class. x̂"}}},
    {"mark":{"type":"line","interpolate":"monotone","strokeWidth":1.3},"encoding":{"y":{"field":"y","type":"quantitative","scale":{"domain":[-0.33,1.05],"nice":false,"zero":false},"title":"portion p̂ᵧ(x̂) of DNNs correctly class. x̂"}}}
   ]}
 ]},
 {"resolve":{"scale":{"color":"independent"},"legend":{"color":"independent"}},"spacing":8,"hconcat":[
  {"width":110,"height":87,"title":"Random labels","transform":[{"filter":"datum.p=='G'"}],
   "encoding":{"x":{"field":"x","type":"quantitative","scale":{"domain":[-51,1074],"nice":false,"zero":false},"axis":{"format":"d","tickCount":5},"title":"sorted examples x̂"},
   "color":{"field":"k","type":"nominal","scale":{"domain":[0,1,2],"range":["#4c70e6","#a2f03a","#d8472b"]},"legend":{"title":"epoch t / prob p̂ᵧ","labelExpr":"['5 / 0.265','12 / 0.515','16 / 0.724'][datum.value]"}}},
   "layer":[
    {"mark":{"type":"area","opacity":0.28},"encoding":{"y":{"field":"y","type":"quantitative","stack":null,"scale":{"domain":[-0.33,1.05],"nice":false,"zero":false},"axis":{"tickCount":7,"format":".1f"},"title":"portion p̂ᵧ(x̂) of DNNs correctly class. x̂"},"y2":{"field":"s"}}},
    {"mark":{"type":"line","interpolate":"step-after","strokeDash":[2,1],"strokeWidth":0.8},"encoding":{"y":{"field":"s","type":"quantitative","scale":{"domain":[-0.33,1.05],"nice":false,"zero":false},"title":"portion p̂ᵧ(x̂) of DNNs correctly class. x̂"}}},
    {"mark":{"type":"line","interpolate":"monotone","strokeWidth":1.3},"encoding":{"y":{"field":"y","type":"quantitative","scale":{"domain":[-0.33,1.05],"nice":false,"zero":false},"title":"portion p̂ᵧ(x̂) of DNNs correctly class. x̂"}}}
   ]},
  {"width":110,"height":87,"title":"Random labels augm.","transform":[{"filter":"datum.p=='H'"}],
   "encoding":{"x":{"field":"x","type":"quantitative","scale":{"domain":[-51,1074],"nice":false,"zero":false},"axis":{"format":"d","tickCount":5},"title":"sorted examples x̂"},
   "color":{"field":"k","type":"nominal","scale":{"domain":[0,1,2],"range":["#4c70e6","#a2f03a","#d8472b"]},"legend":{"title":"epoch t / prob p̂ᵧ","labelExpr":"['278 / 0.251','373 / 0.499','421 / 0.749'][datum.value]"}}},
   "layer":[
    {"mark":{"type":"area","opacity":0.28},"encoding":{"y":{"field":"y","type":"quantitative","stack":null,"scale":{"domain":[-0.33,1.05],"nice":false,"zero":false},"axis":{"tickCount":7,"format":".1f"},"title":"portion p̂ᵧ(x̂) of DNNs correctly class. x̂"},"y2":{"field":"s"}}},
    {"mark":{"type":"line","interpolate":"step-after","strokeDash":[2,1],"strokeWidth":0.8},"encoding":{"y":{"field":"s","type":"quantitative","scale":{"domain":[-0.33,1.05],"nice":false,"zero":false},"title":"portion p̂ᵧ(x̂) of DNNs correctly class. x̂"}}},
    {"mark":{"type":"line","interpolate":"monotone","strokeWidth":1.3},"encoding":{"y":{"field":"y","type":"quantitative","scale":{"domain":[-0.33,1.05],"nice":false,"zero":false},"title":"portion p̂ᵧ(x̂) of DNNs correctly class. x̂"}}}
   ]}
 ]}
 ]}
]
}
